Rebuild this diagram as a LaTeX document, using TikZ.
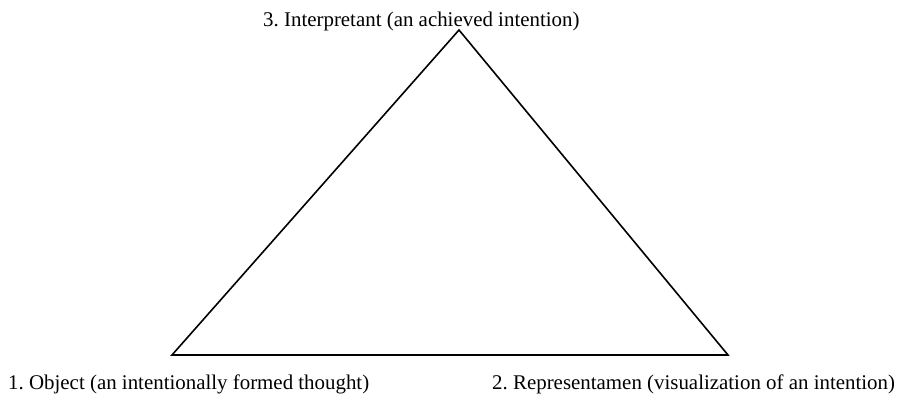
\documentclass[tikz,border=0pt]{standalone}
\usepackage{fontspec}
\setmainfont{Liberation Serif}
\begin{document}
\frenchspacing
\begin{tikzpicture}[x=1pt,y=-1pt,
  lbl/.style={inner sep=0pt,anchor=base west,font=\fontsize{20.9}{25}\selectfont},
  edge/.style={line width=1.6pt,line join=miter}]
\useasboundingbox (0,0) rectangle (898,396);
\coordinate (top) at (459,30);
\coordinate (bl) at (172,355);
\coordinate (br) at (728,355);
\draw[edge] (top) -- (bl) -- (br) -- cycle;
\node[lbl] (t3) at (263,27) {3. Interpretant (an achieved intention)};
\node[lbl] (t1) at (8,389.5) {1. Object (an intentionally formed thought)};
\node[lbl] (t2) at (492,389.5) {2. Representamen (visualization of an intention)};
\end{tikzpicture}
\end{document}
